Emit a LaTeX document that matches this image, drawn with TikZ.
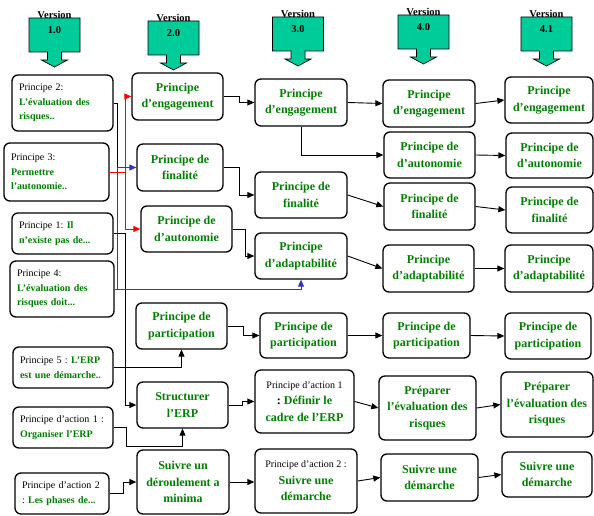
\documentclass[tikz,border=0pt]{standalone}
\usepackage{fontspec}
\setmainfont{Liberation Serif}
\usetikzlibrary{arrows.meta}
\definecolor{tgreen}{RGB}{0,128,0}
\definecolor{vteal}{RGB}{0,204,153}
\definecolor{lnred}{RGB}{255,0,0}
\definecolor{lnblue}{RGB}{51,51,204}
\newcommand\gtxt[1]{{\bfseries\color{tgreen}#1}}
\newcommand\blk[1]{{\color{black}#1}}
\frenchspacing

\begin{document}
\begin{tikzpicture}[x=1pt,y=-1pt,
  box/.style={draw, rounded corners=6pt, line width=1.3pt, align=center,
    inner sep=1pt, text=tgreen, font=\fontsize{12}{16.5}\selectfont\bfseries},
  lbox/.style={draw, rounded corners=6pt, line width=1.3pt, align=left,
    inner xsep=7pt, inner ysep=1pt, text=black, font=\fontsize{10}{14.5}\selectfont},
  sz/.style 2 args={minimum width=#1, minimum height=#2},
  arr/.style={-{Triangle[length=7pt,width=6pt]}, line width=0.9pt},
  vlabel/.style={font=\fontsize{10.5}{12}\selectfont\bfseries, inner sep=0pt},
  verarrow/.pic={\path[draw=black, line width=0.7pt, fill=vteal]
    (-25.5,0) -- (25.5,0) -- (25.5,34) -- (7,34) -- (7,42) -- (13,42)
    -- (0,49) -- (-13,42) -- (-7,42) -- (-7,34) -- (-25.5,34) -- cycle;}
]
\useasboundingbox (0,0) rectangle (594,516);

% version banners
\pic at (54.5,18) {verarrow};
\node[vlabel, anchor=base] (v1t) at (54.5,18.5) {Version};
\node[vlabel] (v1n) at (54.5,30) {1.0};
\pic at (173.5,21) {verarrow};
\node[vlabel, anchor=base] (v2t) at (173.5,21.5) {Version};
\node[vlabel] (v2n) at (173.5,33) {2.0};
\pic at (298,17) {verarrow};
\node[vlabel, anchor=base] (v3t) at (298,17.5) {Version};
\node[vlabel] (v3n) at (298,29) {3.0};
\pic at (423.5,15) {verarrow};
\node[vlabel, anchor=base] (v4t) at (423.5,15.5) {Version};
\node[vlabel] (v4n) at (423.5,27) {4.0};
\pic at (546.5,17) {verarrow};
\node[vlabel, anchor=base] (v5t) at (546.5,17.5) {Version};
\node[vlabel] (v5n) at (546.5,29) {4.1};

% principles (version 1.0)
\node[lbox, text width=87, minimum height=56] (p2) at (62.5,103)
  {Principe 2:\\\gtxt{L’évaluation des}\\\gtxt{risques..}};
\node[lbox, text width=91, minimum height=58] (p3) at (56.5,172)
  {Principe 3:\\\gtxt{Permettre}\\\gtxt{l’autonomie..}};
\node[lbox, text width=87, minimum height=41] (p1) at (62.5,233.5)
  {Principe 1: \gtxt{Il}\\\gtxt{n’existe pas de...}};
\node[lbox, text width=90, minimum height=56] (p4) at (62,289)
  {Principe 4:\\\gtxt{L’évaluation des}\\\gtxt{risques doit...}};
\node[lbox, text width=86, minimum height=41] (p5) at (63,367.5)
  {Principe 5 : \gtxt{L’ERP}\\\gtxt{est une démarche..}};
\node[lbox, text width=86, minimum height=41] (pa1) at (63,427.5)
  {Principe d’action 1 :\\\gtxt{Organiser l’ERP}};
\node[lbox, text width=80, minimum height=41] (pa2) at (62,493.5)
  {Principe d’action 2\\: \gtxt{Les phases de...}};

% version 2.0
\node[box, sz={91}{47}] (eng2) at (177.5,96.5) {Principe\\d’engagement};
\node[box, sz={86}{47}] (fin2) at (180,167.5) {Principe de\\finalité};
\node[box, sz={91}{46}] (aut2) at (186.5,229) {Principe de\\d’autonomie};
\node[box, sz={91}{46}] (par2) at (181.5,326) {Principe de\\participation};
\node[box, sz={91}{46}] (str2) at (182.5,405) {Structurer\\l’ERP};
\node[box, sz={92}{64}] (sui2) at (183,482) {Suivre un\\déroulement a\\minima};

% version 3.0
\node[box, sz={92}{47}] (eng3) at (301,102.5) {Principe\\d’engagement};
\node[box, sz={92}{46}] (fin3) at (301,195) {Principe de\\finalité};
\node[box, sz={92}{46}] (ada3) at (301,256) {Principe\\d’adaptabilité};
\node[box, sz={87}{45}] (par3) at (303.5,335.5) {Principe de\\participation};
\node[box, sz={99}{63}] (act1) at (304.5,401.5)
  {{\fontsize{10}{12}\selectfont\mdseries\color{black}Principe d’action 1}\\\blk{:} Définir le\\cadre de l’ERP};
\node[box, sz={102}{64}] (act2) at (306,481)
  {{\fontsize{10}{12}\selectfont\mdseries\color{black}Principe d’action 2 :}\\Suivre une\\démarche};

% version 4.0
\node[box, sz={92}{47}] (eng4) at (429,103.5) {Principe\\d’engagement};
\node[box, sz={91}{46}] (aut4) at (429.5,155) {Principe de\\d’autonomie};
\node[box, sz={91}{47}] (fin4) at (429.5,206.5) {Principe de\\finalité};
\node[box, sz={91}{47}] (ada4) at (428.5,268.5) {Principe\\d’adaptabilité};
\node[box, sz={87}{45}] (par4) at (426.5,335.5) {Principe de\\participation};
\node[box, sz={97}{64}] (pre4) at (427.5,408) {Préparer\\l’évaluation des\\risques};
\node[box, sz={97}{47}] (sui4) at (429.5,477.5) {Suivre une\\démarche};

% version 4.1
\node[box, sz={88}{46}] (eng5) at (549,100) {Principe\\d’engagement};
\node[box, sz={87}{45}] (aut5) at (549.5,155.5) {Principe de\\d’autonomie};
\node[box, sz={87}{46}] (fin5) at (549.5,210) {Principe de\\finalité};
\node[box, sz={88}{47}] (ada5) at (549,268.5) {Principe\\d’adaptabilité};
\node[box, sz={86}{46}] (par5) at (548,336) {Principe de\\participation};
\node[box, sz={92}{65}] (pre5) at (547,404.5) {Préparer\\l’évaluation des\\risques};
\node[box, sz={90}{45}] (sui5) at (547,474.5) {Suivre une\\démarche};

% links from the first principles
\coordinate (rj) at (125,172);
\coordinate (bj) at (117.5,289);
\draw[line width=0.9pt] (p2.east) -- (p2.east -| bj) -- (bj);
\draw[arr] (p1.east) -- ++(12,0) |- (str2.west);
\draw[arr] (p5.east) -| (par2.south);
\draw[arr] (pa1.east) -- ++(13,0) -- ++(0,18.5) -| (str2.south);
\draw[arr] (pa2.east) -- ++(14,0) |- (sui2.west);
\draw[arr, draw=lnred] (p3.east) -- (rj) |- (eng2.west);
\draw[arr, draw=lnred] (rj) |- (aut2.west);
\draw[arr, draw=lnblue] (p4.east) -- (bj) |- (fin2.west);
\draw[arr, draw=lnblue] (bj) -| (ada3.south);

% version 2.0 -> 3.0
\draw[arr] (eng2.east) -- ++(16,0) |- (eng3.west);
\draw[arr] (fin2.east) -- ++(16,0) |- (fin3.west);
\draw[arr] (aut2.east) -- ++(13,0) |- (ada3.west);
\draw[arr] (par2.east) -- ++(16,0) |- (par3.west);
\draw[arr] (str2.east) -- ++(14,0) |- (act1.west);
\draw[arr] (sui2.east) -- (sui2.east -| act2.west);

% version 3.0 -> 4.0
\draw[arr] (eng3.east) -- (eng4.west);
\draw[arr] (eng3.south) |- (aut4.west);
\draw[arr] (fin3.east) -- (fin4.west);
\draw[arr] (ada3.east) -- (ada4.west);
\draw[arr] (par3.east) -- (par4.west);
\draw[arr] (act1.east) -- (pre4.west);
\draw[arr] (act2.east) -- (sui4.west);

% version 4.0 -> 4.1
\draw[arr] (eng4.east) -- (eng5.west);
\draw[arr] (aut4.east) -- (aut5.west);
\draw[arr] (fin4.east) -- (fin5.west);
\draw[arr] (ada4.east) -- (ada5.west);
\draw[arr] (par4.east) -- (par5.west);
\draw[arr] (pre4.east) -- (pre5.west);
\draw[arr] (sui4.east) -- (sui5.west);
\end{tikzpicture}
\end{document}
